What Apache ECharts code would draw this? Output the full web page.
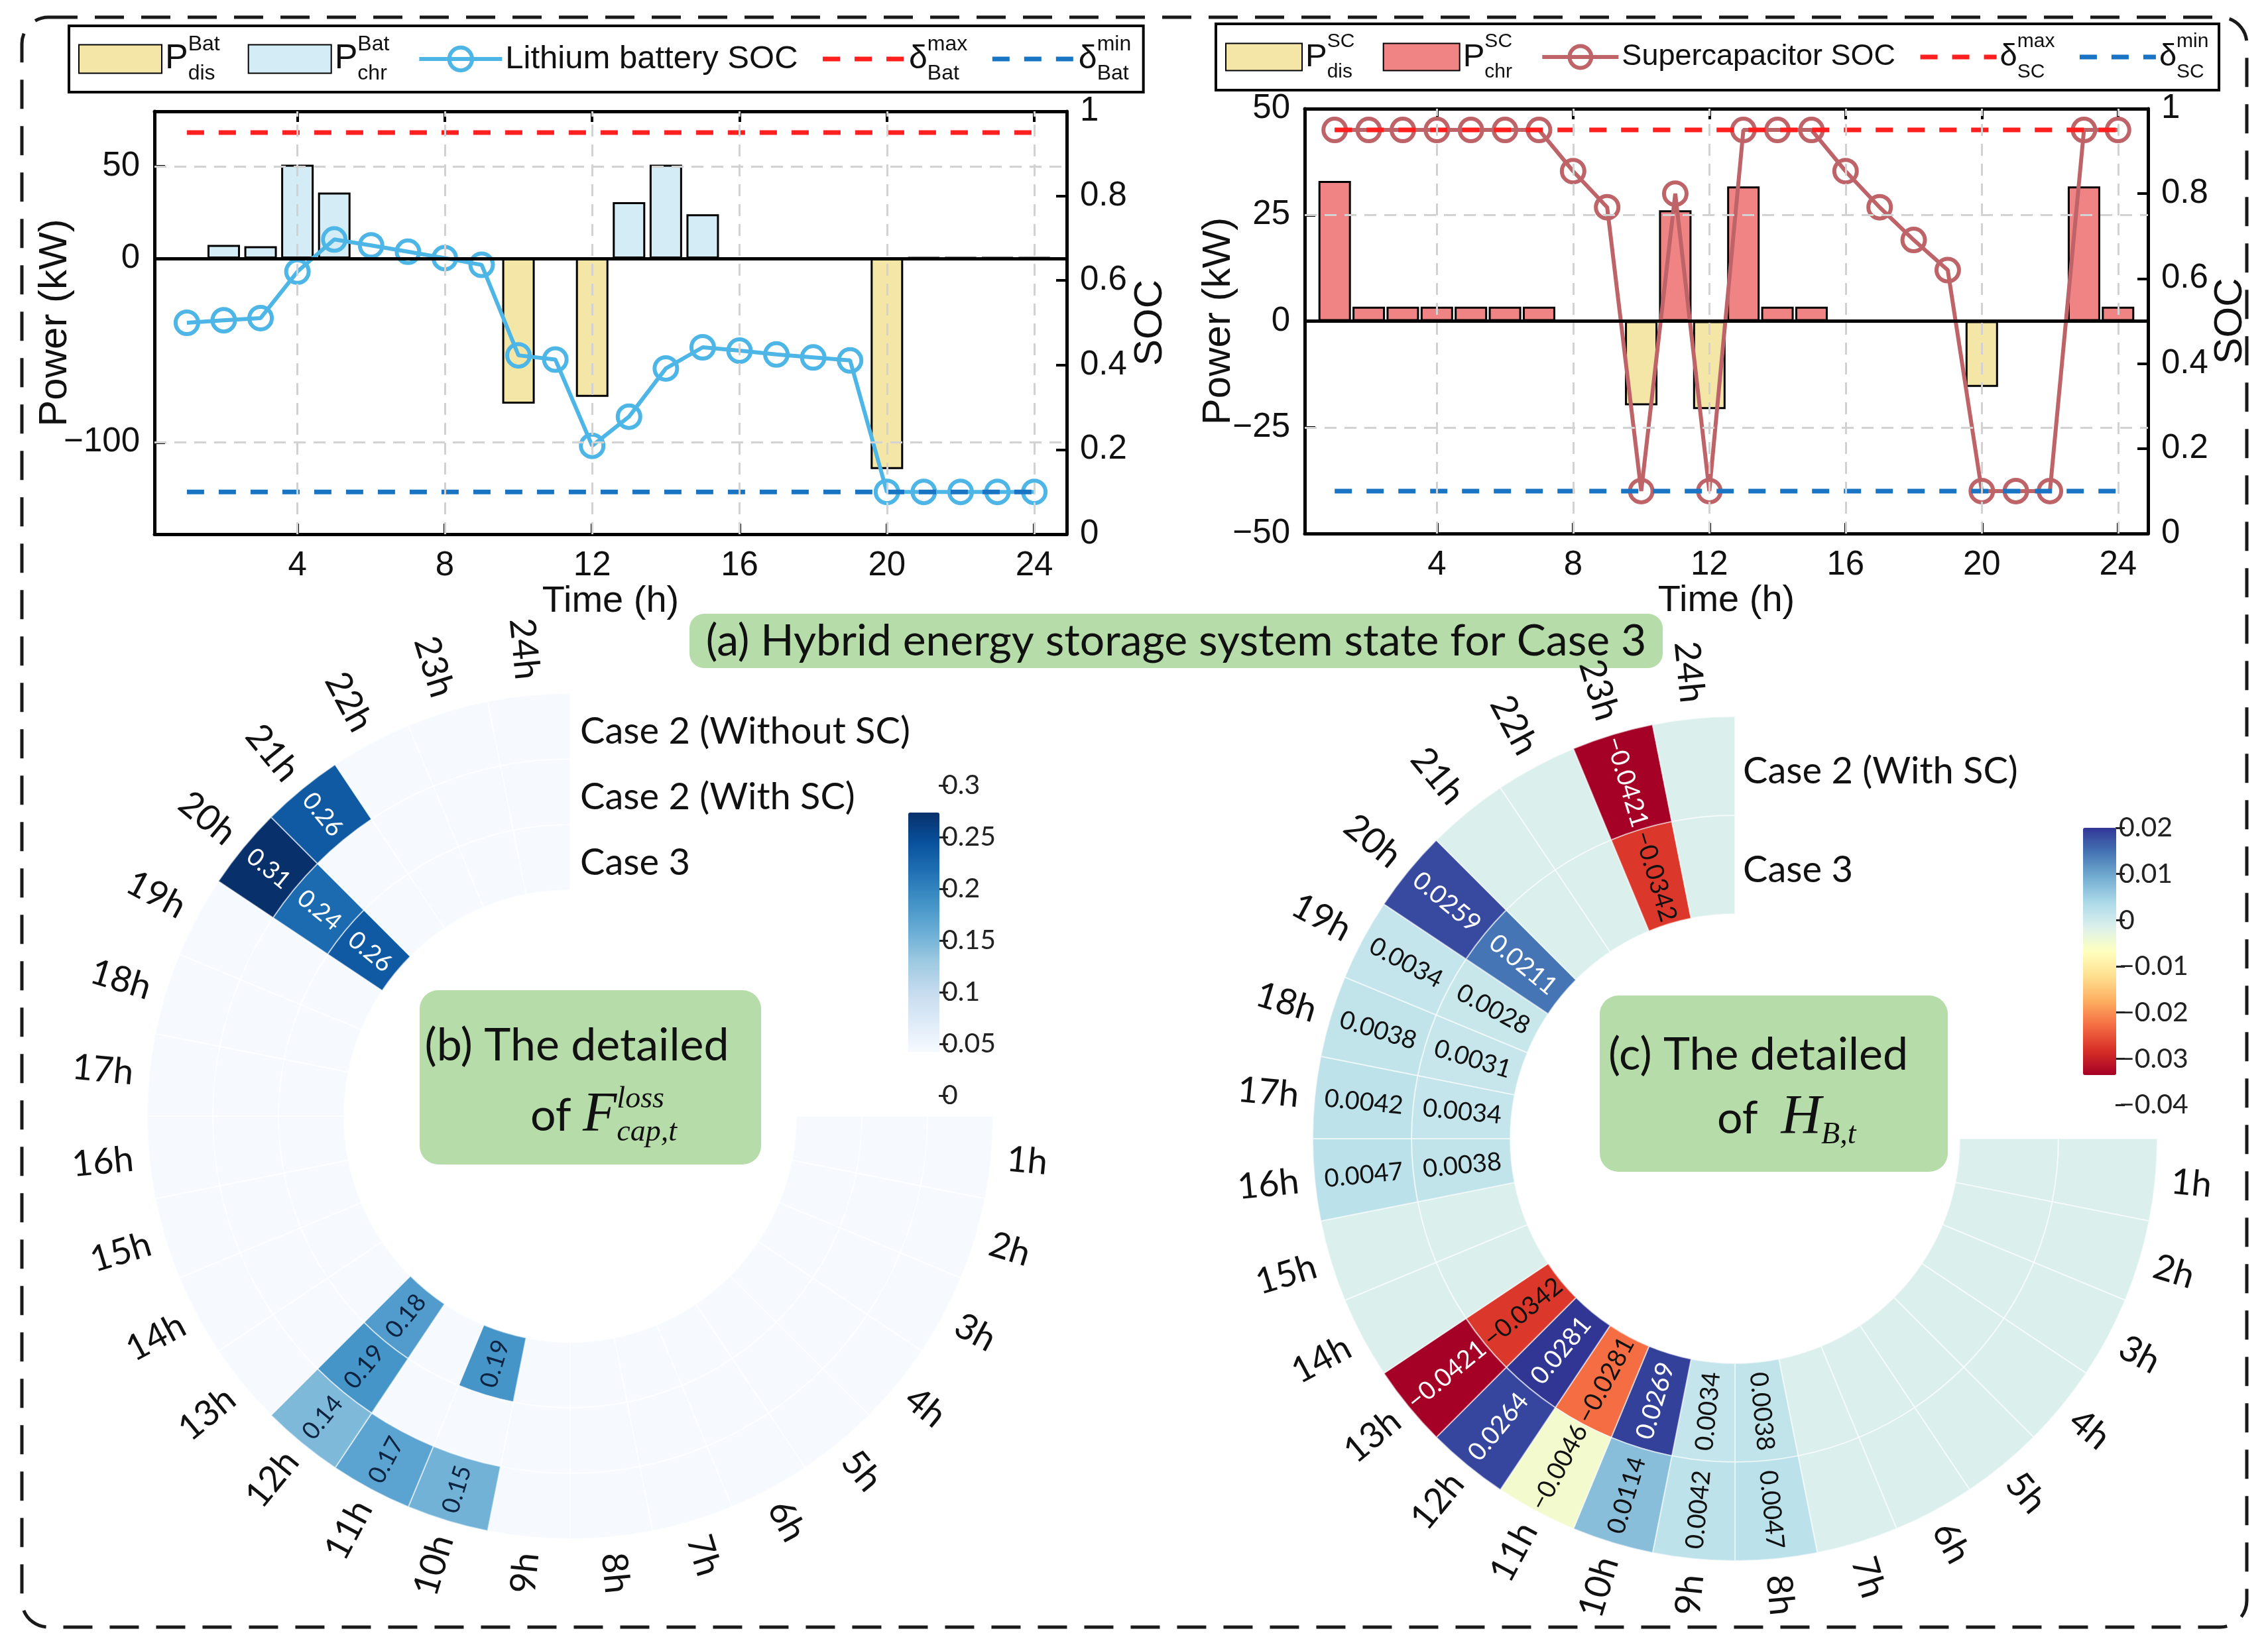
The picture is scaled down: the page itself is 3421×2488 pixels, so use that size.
<!DOCTYPE html>
<html><head><meta charset="utf-8">
<script src="https://cdn.jsdelivr.net/npm/echarts@6/dist/echarts.min.js"></script>
<style>html,body{margin:0;padding:0;background:#fff}#c{width:3421px;height:2488px}</style>
</head><body><div id="c"></div>
<script>
// ---------------- data ----------------
const timeSteps = [1,2,3,4,5,6,7,8,9,10,11,12,13,14,15,16,17,18,19,20,21,22,23,24];
const timeTicks = [4,8,12,16,20,24];
const batPowerTicks = [-100,0,50];
const scPowerTicks = [-50,-25,0,25,50];
const batDischarge = [0,0,0,0,0,0,0,0,0,-79,0,-75.3,0,0,0,0,0,0,0,-114.6,0,0,0,0];
const batCharge    = [0,7.4,6.6,51,35.8,0,0,0,0,0,0,0,30.6,51,24,0,0,0,0,0,0.6,0.6,0.6,0.6];
const batSOC = [0.50,0.506,0.511,0.621,0.697,0.683,0.668,0.653,0.637,0.423,0.413,0.209,0.278,0.392,0.442,0.434,0.425,0.418,0.411,0.10,0.10,0.10,0.10,0.10];
const batSocBounds = [0.10, 0.95];
const scDischarge = [0,0,0,0,0,0,0,0,0,-19.8,0,-20.7,0,0,0,0,0,0,0,-15.5,0,0,0,0];
const scCharge    = [33,3.4,3.4,3.4,3.4,3.4,3.4,0,0,0,26.1,0,31.7,3.4,3.4,0,0,0,0,0,0.3,0.3,31.7,3.4];
const scSOC = [0.95,0.95,0.95,0.95,0.95,0.95,0.95,0.853,0.768,0.10,0.80,0.10,0.95,0.95,0.95,0.853,0.768,0.691,0.62,0.10,0.10,0.10,0.95,0.95];
const scSocBounds = [0.10, 0.95];

const hours = ['1h','2h','3h','4h','5h','6h','7h','8h','9h','10h','11h','12h','13h','14h','15h','16h','17h','18h','19h','20h','21h','22h','23h','24h'];
const lossCases = ['Case 3','Case 2 (With SC)','Case 2 (Without SC)'];          // inner -> outer
const lossCase3        = [0,0,0,0,0,0,0,0,0,0.19,0,0.18,0,0,0,0,0,0,0,0.26,0,0,0,0];
const lossCase2WithSC  = [0,0,0,0,0,0,0,0,0,0,0,0.19,0,0,0,0,0,0,0,0.24,0,0,0,0];
const lossCase2NoSC    = [0,0,0,0,0,0,0,0,0,0.15,0.17,0.14,0,0,0,0,0,0,0,0.31,0.26,0,0,0];
const healthCases = ['Case 3','Case 2 (With SC)'];                               // inner -> outer
const healthCase3       = [0,0,0,0,0,0,0,0.0038,0.0034,0.0269,-0.0281,0.0281,-0.0342,0,0,0.0038,0.0034,0.0031,0.0028,0.0211,0,0,-0.0342,0];
const healthCase2WithSC = [0,0,0,0,0,0,0,0.0047,0.0042,0.0114,-0.0046,0.0264,-0.0421,0,0,0.0047,0.0042,0.0038,0.0034,0.0259,0,0,-0.0421,0];
const lossScale = [0, 0.31];
const healthScale = [-0.0421, 0.0281];
const lossBarTicks = [0, 0.3, 0.05];
const healthBarTicks = [-0.04, 0.02, 0.01];

// ---------------- helpers ----------------
const FA = 'Liberation Sans';
const FT = 'Lato';
const minus = v => String(v).replace('-', '\u2212');
const pairs = (xs, ys) => xs.map((x, i) => [x, ys[i]]);
const boundLine = (b) => [[timeSteps[0], b], [timeSteps[timeSteps.length - 1], b]];
const cellData = (rings) => { const out = []; rings.forEach((arr, r) => arr.forEach((v, h) => out.push([r, h, v]))); return out; };

const BLUES = ['#f6faff','#deebf7','#c6dbef','#9ecae1','#6baed6','#4292c6','#2171b5','#08519c','#08306b'];
const RDYLBU = ['#a50026','#d73027','#f46d43','#fdae61','#fee090','#ffffbf','#dbf0ec','#abd9e9','#74add1','#4575b4','#313695'];

function timeAxis(gridIndex, position, labels) {
  return {
    type: 'value', gridIndex, position, min: 0.12, max: 24.88,
    axisLine: {show: true, onZero: false, lineStyle: {color: '#000', width: 5}},
    axisTick: {show: true, inside: true, length: 16, customValues: timeTicks, lineStyle: {color: '#000', width: 4}},
    axisLabel: {show: labels, customValues: timeTicks, margin: 22, fontSize: 51, fontFamily: FA, color: '#111'},
    splitLine: {show: false},
    name: labels ? 'Time (h)' : '', nameLocation: 'middle', nameGap: 70,
    nameTextStyle: {fontSize: 56, fontFamily: FA, color: '#111'}
  };
}
function powerAxis(gridIndex, min, max, ticks, gap) {
  return {
    type: 'value', gridIndex, position: 'left', min, max,
    axisLine: {show: true, onZero: false, lineStyle: {color: '#000', width: 5}},
    axisTick: {show: true, inside: true, length: 16, customValues: ticks, lineStyle: {color: '#000', width: 4}},
    axisLabel: {customValues: ticks, formatter: minus, margin: 22, fontSize: 51, fontFamily: FA, color: '#111'},
    splitLine: {show: false},
    name: 'Power (kW)', nameLocation: 'middle', nameGap: gap, nameMoveOverlap: false,
    nameTextStyle: {fontSize: 60, fontFamily: FA, color: '#111'}
  };
}
function socAxis(gridIndex, gap) {
  return {
    type: 'value', gridIndex, position: 'right', min: 0, max: 1, interval: 0.2,
    axisLine: {show: true, onZero: false, lineStyle: {color: '#000', width: 5}},
    axisTick: {show: true, inside: true, length: 16, lineStyle: {color: '#000', width: 4}},
    axisLabel: {margin: 20, fontSize: 51, fontFamily: FA, color: '#111'},
    splitLine: {show: false},
    name: 'SOC', nameLocation: 'middle', nameGap: gap,
    nameTextStyle: {fontSize: 60, fontFamily: FA, color: '#111'}
  };
}
const gridLineStyle = {color: '#d2d2d2', type: [18, 12], width: 3};
function gridSeries(name, xi, yi, hTicks) {
  return {
    name, type: 'line', xAxisIndex: xi, yAxisIndex: yi, data: [], z: 1, silent: true,
    markLine: {
      silent: true, symbol: ['none', 'none'], label: {show: false}, animation: false,
      lineStyle: gridLineStyle,
      data: timeTicks.map(t => ({xAxis: t})).concat(hTicks.filter(v => v !== 0).map(v => ({yAxis: v})))
    }
  };
}
function barSeries(name, xi, yi, values, color, stack, withZero) {
  const s = {
    name, type: 'bar', xAxisIndex: xi, yAxisIndex: yi, stack, barWidth: 49,
    data: pairs(timeSteps, values), z: 2,
    itemStyle: {color, borderColor: '#000', borderWidth: 3}
  };
  if (withZero) s.markLine = {silent: true, symbol: ['none','none'], label: {show: false}, animation: false,
    lineStyle: {color: '#000', type: 'solid', width: 5}, data: [{yAxis: 0}]};
  return s;
}
function socSeries(name, xi, yi, values, color) {
  return {
    name, type: 'line', xAxisIndex: xi, yAxisIndex: yi, data: pairs(timeSteps, values), z: 3,
    symbol: 'circle', symbolSize: 34,
    lineStyle: {color, width: 6},
    itemStyle: {color: 'rgba(255,255,255,0)', borderColor: color, borderWidth: 6}
  };
}
function boundSeries(name, xi, yi, b, color) {
  return {
    name, type: 'line', xAxisIndex: xi, yAxisIndex: yi, data: boundLine(b), z: 4, symbol: 'none',
    lineStyle: {color, width: 7, type: [26, 22]}, itemStyle: {color}
  };
}

const legendText = {
  'Pdis_Bat': '{P|P}{sup|Bat}{sub|dis}',
  'Pchr_Bat': '{P|P}{sup|Bat}{sub|chr}',
  'Lithium battery SOC': '{t|Lithium battery SOC}',
  'dmax_Bat': '{d|\u03b4}{sup|max}{sub|Bat}',
  'dmin_Bat': '{d|\u03b4}{sup|min}{sub|Bat}',
  'Pdis_SC': '{P|P}{sup|SC}{sub|dis}',
  'Pchr_SC': '{P|P}{sup|SC}{sub|chr}',
  'Supercapacitor SOC': '{t|Supercapacitor SOC}',
  'dmax_SC': '{d|\u03b4}{sup|max}{sub|SC}',
  'dmin_SC': '{d|\u03b4}{sup|min}{sub|SC}'
};
function legendRich(big, small, txt, subW) {
  return {
    P: {fontSize: big, fontFamily: FA, lineHeight: 76, verticalAlign: 'middle', color: '#111'},
    d: {fontSize: big - 2, fontFamily: FA, lineHeight: 76, verticalAlign: 'middle', color: '#111'},
    sup: {fontSize: small, fontFamily: FA, lineHeight: 34, verticalAlign: 'top', width: 0, color: '#111'},
    sub: {fontSize: small, fontFamily: FA, lineHeight: 34, verticalAlign: 'bottom', width: subW, color: '#111'},
    t: {fontSize: txt, fontFamily: FA, lineHeight: 76, verticalAlign: 'middle', color: '#111'}
  };
}
function makeLegend(left, top, names, gap, iw, ih, rich) {
  return {
    left, top, orient: 'horizontal', selectedMode: false, width: 1700,
    data: names.map((n, i) => {
      if (i < 2) return {name: n, icon: 'rect'};
      if (i === 2) return {name: n, lineStyle: {width: 6}, itemStyle: {borderWidth: 6}};
      return {name: n, itemStyle: {opacity: 0}, lineStyle: {width: 7}};
    }),
    itemWidth: iw, itemHeight: ih, itemGap: gap,
    borderColor: '#000', borderWidth: 4, padding: [12, 14, 12, 14], backgroundColor: '#fff',
    formatter: n => legendText[n],
    textStyle: {fontFamily: FA, fontSize: 48, color: '#111', rich}
  };
}

// ---- polar renderers ----
function labelStyle(text, size, fill, align) {
  return {text, fontSize: size, fontFamily: FT, font: size + 'px ' + FT, fill, textFill: fill,
    align, textAlign: align, verticalAlign: 'middle', textVerticalAlign: 'middle'};
}
function cellRenderer(fmt, colorFor, size) {
  return function (params, api) {
    const r = api.value(0), h = api.value(1), v = api.value(2);
    const c = api.coord([r, h]);
    const s = api.size([1, 1]);
    const cs = params.coordSys;
    const children = [{
      type: 'sector',
      shape: {cx: cs.cx, cy: cs.cy, r0: c[2] - s[0] / 2, r: c[2] + s[0] / 2,
              startAngle: -c[3] - s[1] / 2, endAngle: -c[3] + s[1] / 2, clockwise: true},
      style: {fill: api.visual('color'), stroke: 'rgba(255,255,255,0.55)', lineWidth: 2}
    }];
    if (v !== 0) {
      const leftSide = Math.cos(c[3]) < 0;
      children.push({type: 'text', x: c[0], y: c[1], rotation: leftSide ? c[3] - Math.PI : c[3], z2: 10,
        style: labelStyle(fmt(v), size, colorFor(v), 'center')});
    }
    return {type: 'group', children};
  };
}
function hourRenderer(labels, offset) {
  return function (params, api) {
    const h = api.value(1);
    const c = api.coord([api.value(0), h]);
    const s = api.size([1, 1]);
    const cs = params.coordSys;
    const R = c[2] + s[0] / 2 + offset, a = c[3];
    const leftSide = Math.cos(a) < 0;
    return {type: 'text', x: cs.cx + R * Math.cos(a), y: cs.cy - R * Math.sin(a),
      rotation: leftSide ? a - Math.PI : a,
      style: labelStyle(labels[h], 54, '#111', leftSide ? 'right' : 'left')};
  };
}
function caseRenderer(labels, dx) {
  return function (params, api) {
    const r = api.value(0);
    const c = api.coord([r, api.value(1)]);
    const cs = params.coordSys;
    return {type: 'text', x: cs.cx + dx, y: cs.cy - c[2] + 8, style: labelStyle(labels[r], 56, '#111', 'left')};
  };
}
function hiddenAngle(i) {
  return {polarIndex: i, type: 'category', data: hours, startAngle: 0, endAngle: -270, clockwise: true,
    axisLine: {show: false}, axisTick: {show: false}, axisLabel: {show: false}, splitLine: {show: false}};
}
function hiddenRadius(i, cats) {
  return {polarIndex: i, type: 'category', data: cats,
    axisLine: {show: false}, axisTick: {show: false}, axisLabel: {show: false}, splitLine: {show: false}};
}
function cbarAxis(gridIndex, t) {
  return {type: 'value', gridIndex, position: 'right', min: t[0], max: t[1], interval: t[2],
    axisLine: {show: false}, axisTick: {show: true, length: 14, lineStyle: {color: '#222', width: 3}},
    axisLabel: {margin: 4, fontSize: 41, fontFamily: FT, color: '#222', formatter: minus}, splitLine: {show: false}};
}

const fmtLoss = v => v.toFixed(2);
const fmtHealth = v => (v < 0 ? '\u2212' : '') + Math.abs(v).toFixed(4);

const chart = echarts.init(document.getElementById('c'), null, {renderer: 'canvas'});
chart.setOption({
  animation: false,
  backgroundColor: '#fff',
  grid: [
    {left: 233, top: 168, width: 1376, height: 638},
    {left: 1968, top: 164, width: 1272, height: 641},
    {left: 1416, top: 1185, width: 1, height: 468},
    {left: 3191, top: 1249, width: 1, height: 418}
  ],
  xAxis: [
    timeAxis(0, 'bottom', true), timeAxis(0, 'top', false),
    timeAxis(1, 'bottom', true), timeAxis(1, 'top', false),
    {type: 'value', gridIndex: 2, show: false}, {type: 'value', gridIndex: 3, show: false}
  ],
  yAxis: [
    powerAxis(0, -150, 80, batPowerTicks, 120), socAxis(0, 96),
    powerAxis(1, -50, 50, scPowerTicks, 100), socAxis(1, 94),
    cbarAxis(2, lossBarTicks), cbarAxis(3, healthBarTicks)
  ],
  polar: [
    {center: [860, 1684], radius: [341, 638]},
    {center: [2617, 1718], radius: [339, 637]}
  ],
  angleAxis: [hiddenAngle(0), hiddenAngle(1)],
  radiusAxis: [hiddenRadius(0, lossCases), hiddenRadius(1, healthCases)],
  legend: [
    makeLegend(104, 39, ['Pdis_Bat','Pchr_Bat','Lithium battery SOC','dmax_Bat','dmin_Bat'], 34, 125, 43,
               legendRich(52, 32, 49, 56)),
    makeLegend(1834, 36, ['Pdis_SC','Pchr_SC','Supercapacitor SOC','dmax_SC','dmin_SC'], 34, 115, 41,
               legendRich(49, 30, 45, 50))
  ],
  visualMap: [
    {type: 'continuous', seriesIndex: 12, dimension: 2, min: lossScale[0], max: lossScale[1],
     inRange: {color: BLUES}, calculable: false, hoverLink: false, left: 1370, top: 1226, padding: 0,
     itemWidth: 47, itemHeight: 361, orient: 'vertical'},
    {type: 'continuous', seriesIndex: 15, dimension: 2, min: healthScale[0], max: healthScale[1],
     inRange: {color: RDYLBU}, calculable: false, hoverLink: false, left: 3142, top: 1249, padding: 0,
     itemWidth: 50, itemHeight: 373, orient: 'vertical'}
  ],
  series: [
    gridSeries('gridBat', 0, 0, batPowerTicks),
    barSeries('Pdis_Bat', 0, 0, batDischarge, '#f3e6a6', 'bat', false),
    barSeries('Pchr_Bat', 0, 0, batCharge, '#d4ecf5', 'bat', true),
    socSeries('Lithium battery SOC', 0, 1, batSOC, '#4db6e6'),
    boundSeries('dmax_Bat', 0, 1, batSocBounds[1], '#ff1f1f'),
    boundSeries('dmin_Bat', 0, 1, batSocBounds[0], '#1a74c4'),
    gridSeries('gridSC', 2, 2, [-25, 0, 25]),
    barSeries('Pdis_SC', 2, 2, scDischarge, '#f3e6a6', 'sc', false),
    barSeries('Pchr_SC', 2, 2, scCharge, '#f08484', 'sc', true),
    socSeries('Supercapacitor SOC', 2, 3, scSOC, '#be6469'),
    boundSeries('dmax_SC', 2, 3, scSocBounds[1], '#ff1f1f'),
    boundSeries('dmin_SC', 2, 3, scSocBounds[0], '#1a74c4'),
    // 12: loss cells
    {type: 'custom', coordinateSystem: 'polar', polarIndex: 0, silent: true,
     renderItem: cellRenderer(fmtLoss, v => v >= 0.235 ? '#fff' : '#0d2340', 37),
     data: cellData([lossCase3, lossCase2WithSC, lossCase2NoSC])},
    {type: 'custom', coordinateSystem: 'polar', polarIndex: 0, silent: true,
     renderItem: hourRenderer(hours, 24), data: hours.map((h, i) => [lossCases.length - 1, i])},
    {type: 'custom', coordinateSystem: 'polar', polarIndex: 0, silent: true,
     renderItem: caseRenderer(lossCases, 15), data: lossCases.map((c, i) => [i, hours.length - 1])},
    // 15: health cells
    {type: 'custom', coordinateSystem: 'polar', polarIndex: 1, silent: true,
     renderItem: cellRenderer(fmtHealth, v => (v > 0.015 || v < -0.04) ? '#fff' : '#111', 38),
     data: cellData([healthCase3, healthCase2WithSC])},
    {type: 'custom', coordinateSystem: 'polar', polarIndex: 1, silent: true,
     renderItem: hourRenderer(hours, 24), data: hours.map((h, i) => [healthCases.length - 1, i])},
    {type: 'custom', coordinateSystem: 'polar', polarIndex: 1, silent: true,
     renderItem: caseRenderer(healthCases, 12), data: healthCases.map((c, i) => [i, hours.length - 1])}
  ],
  graphic: [
    {type: 'rect', silent: true, z: 0, shape: {x: 33, y: 26, width: 3356, height: 2429, r: 40},
     style: {fill: 'none', stroke: '#1a1a1a', lineWidth: 5, lineDash: [44, 26]}},
    {type: 'rect', silent: true, shape: {x: 1040, y: 926, width: 1468, height: 82, r: 22}, style: {fill: '#b6dca9'}},
    {type: 'text', silent: true, x: 1774, y: 968,
     style: {text: '(a) Hybrid energy storage system state for Case 3', font: '66px Lato', fill: '#111', align: 'center', verticalAlign: 'middle'}},
    {type: 'rect', silent: true, shape: {x: 633, y: 1494, width: 515, height: 263, r: 28}, style: {fill: '#b6dca9'}},
    {type: 'text', silent: true, x: 870, y: 1578,
     style: {text: '(b) The detailed', font: '68px Lato', fill: '#111', align: 'center', verticalAlign: 'middle'}},
    {type: 'text', silent: true, x: 800, y: 1684,
     style: {text: '{n|of }{F|F}{sup|loss}{sub|cap,t}', align: 'left', verticalAlign: 'middle',
       rich: {n: {font: '68px Lato', fill: '#111', lineHeight: 96, verticalAlign: 'middle'},
              F: {font: 'italic 84px "Liberation Serif"', fill: '#111', lineHeight: 96, verticalAlign: 'middle'},
              sup: {font: 'italic 46px "Liberation Serif"', fill: '#111', lineHeight: 46, verticalAlign: 'top', width: 0},
              sub: {font: 'italic 46px "Liberation Serif"', fill: '#111', lineHeight: 46, verticalAlign: 'bottom'}}}},
    {type: 'rect', silent: true, shape: {x: 2413, y: 1502, width: 525, height: 266, r: 28}, style: {fill: '#b6dca9'}},
    {type: 'text', silent: true, x: 2652, y: 1592,
     style: {text: '(c) The detailed', font: '68px Lato', fill: '#111', align: 'center', verticalAlign: 'middle'}},
    {type: 'text', silent: true, x: 2590, y: 1688,
     style: {text: '{n|of  }{H|H}{sub|B,t}', align: 'left', verticalAlign: 'middle',
       rich: {n: {font: '68px Lato', fill: '#111', lineHeight: 96, verticalAlign: 'middle'},
              H: {font: 'italic 84px "Liberation Serif"', fill: '#111', lineHeight: 96, verticalAlign: 'middle'},
              sub: {font: 'italic 46px "Liberation Serif"', fill: '#111', lineHeight: 46, verticalAlign: 'bottom'}}}}
  ]
});
</script></body></html>
